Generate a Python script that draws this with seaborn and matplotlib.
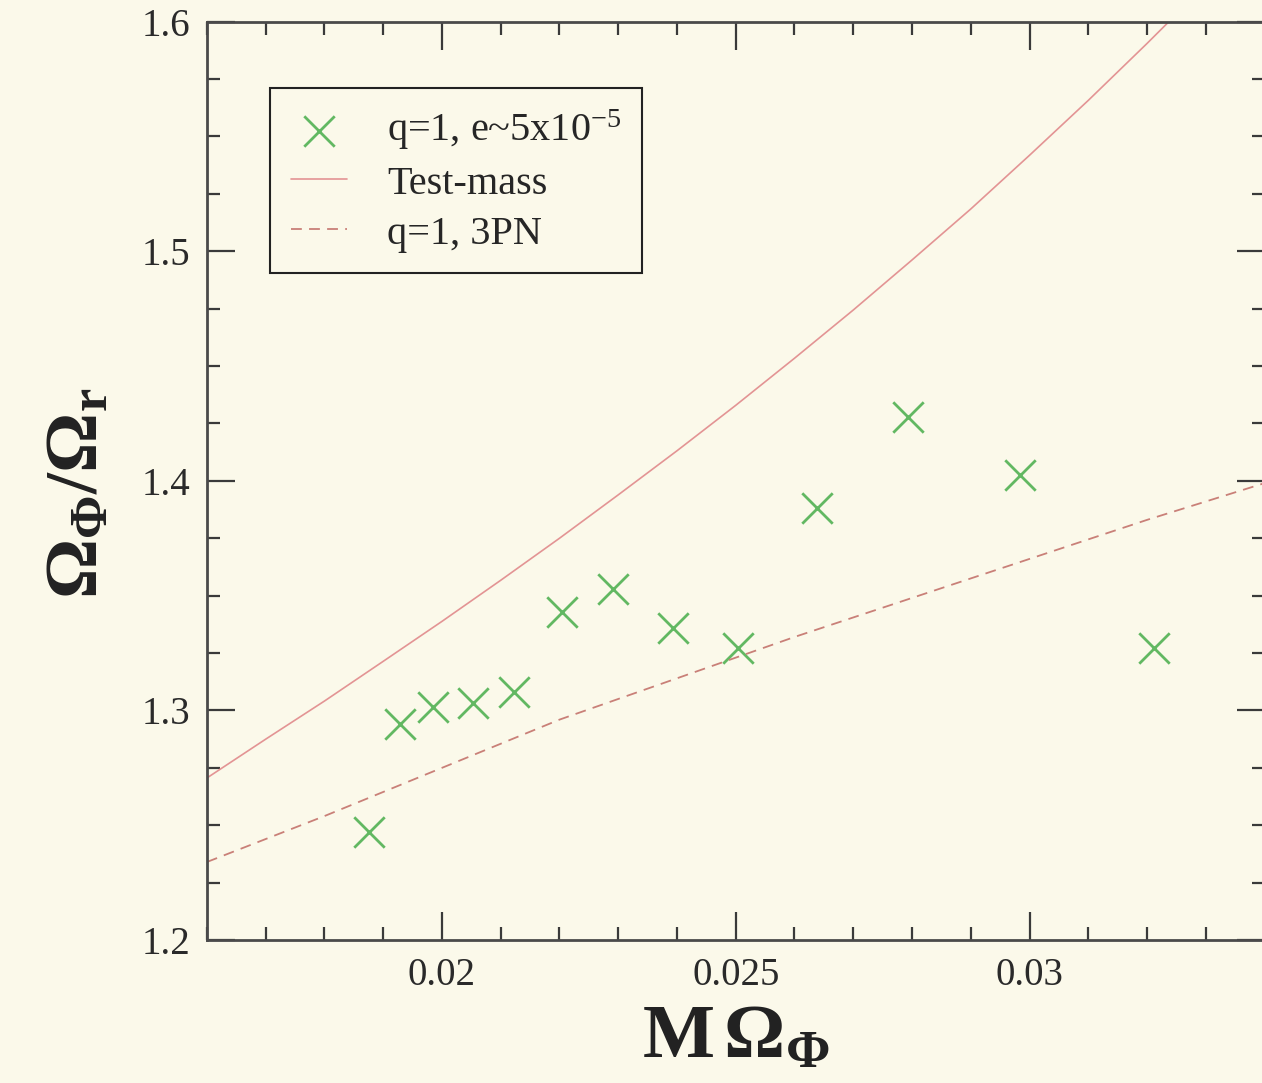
import matplotlib
matplotlib.use("Agg")
import matplotlib.pyplot as plt
import seaborn as sns
from matplotlib.ticker import MultipleLocator, FuncFormatter

# simulation points (q=1, e~5x10^-5)
sim_x = [0.01876, 0.01929, 0.01985, 0.02053, 0.02123, 0.02204, 0.02291,
         0.02393, 0.02504, 0.02638, 0.02793, 0.02984, 0.03212]
sim_y = [1.2471, 1.2941, 1.3015, 1.3033, 1.3081, 1.3429, 1.3529,
         1.3359, 1.3272, 1.3882, 1.4279, 1.4026, 1.3272]

# test-mass curve
tm_x = [0.016, 0.017, 0.018, 0.019, 0.020, 0.021, 0.022, 0.023, 0.024,
        0.025, 0.026, 0.027, 0.028, 0.029, 0.030, 0.031, 0.032, 0.0326, 0.033]
tm_y = [1.2706, 1.2875, 1.3041, 1.3214, 1.3388, 1.3567, 1.3750, 1.3939, 1.4131,
        1.4329, 1.4534, 1.4744, 1.4962, 1.5184, 1.5418, 1.5657, 1.5905, 1.6058, 1.6165]

# q=1 3PN curve
pn_x = [0.016, 0.018, 0.020, 0.022, 0.024, 0.026, 0.028, 0.030, 0.032, 0.034]
pn_y = [1.234, 1.254, 1.275, 1.296, 1.314, 1.332, 1.349, 1.366, 1.383, 1.399]

sns.set_style("ticks")
plt.rcParams["font.family"] = ["Liberation Serif", "DejaVu Serif"]
plt.rcParams["mathtext.fontset"] = "custom"
plt.rcParams["mathtext.rm"] = "Liberation Serif"
plt.rcParams["mathtext.it"] = "Liberation Serif:italic"
plt.rcParams["mathtext.bf"] = "Liberation Serif:bold"

bg = "#FBF9EA"
fig = plt.figure(figsize=(12.62, 10.83), dpi=100, facecolor=bg)
ax = fig.add_axes([0.164, 0.132, 0.838, 0.848])
ax.set_facecolor(bg)

sns.lineplot(x=tm_x, y=tm_y, ax=ax, color="#E39494", lw=1.2, label="Test-mass")
sns.lineplot(x=pn_x, y=pn_y, ax=ax, color="#C98078", lw=1.3,
             linestyle=(0, (6, 4)), label="q=1, 3PN")
sns.scatterplot(x=sim_x, y=sim_y, ax=ax, marker="x", s=480, color="#62B862",
                linewidth=2, label="q=1, e~5x10$^{-5}$")

ax.set_xlim(0.016, 0.034)
ax.set_ylim(1.2, 1.6)
ax.xaxis.set_major_locator(MultipleLocator(0.005))
ax.xaxis.set_minor_locator(MultipleLocator(0.001))
ax.yaxis.set_major_locator(MultipleLocator(0.1))
ax.yaxis.set_minor_locator(MultipleLocator(0.025))
ax.xaxis.set_major_formatter(FuncFormatter(lambda v, p: "%g" % round(v, 4)))
ax.yaxis.set_major_formatter(FuncFormatter(lambda v, p: "%.1f" % v))

tc = "#3a3a3a"
ax.tick_params(which="both", direction="in", top=True, right=True, color=tc,
               labelcolor="#2a2a2a")
ax.tick_params(which="major", length=20, width=1.6, labelsize=28, pad=12)
ax.tick_params(which="minor", length=9.5, width=1.6)
for s in ax.spines.values():
    s.set_color("#4a4a4a")
    s.set_linewidth(2)

ax.set_xlabel(r"$\mathbf{M\,\Omega_\Phi}$", fontsize=55, color="#222222", labelpad=8)
ax.set_ylabel(r"$\mathbf{\Omega_\Phi/\Omega_r}$", fontsize=54, color="#222222")
ax.yaxis.set_label_coords(-0.088, 0.486)

h, l = ax.get_legend_handles_labels()
order = [2, 0, 1]
leg = ax.legend([h[i] for i in order], [l[i] for i in order], loc="upper left",
                bbox_to_anchor=(0.06, 0.928), borderaxespad=0, fontsize=29,
                frameon=True, fancybox=False, framealpha=1, facecolor=bg,
                edgecolor="#222222", handlelength=1.4, handletextpad=1.0,
                labelspacing=0.32, borderpad=0.5)
leg.get_frame().set_linewidth(1.5)

fig.savefig("out.png", dpi=100, facecolor=bg)
